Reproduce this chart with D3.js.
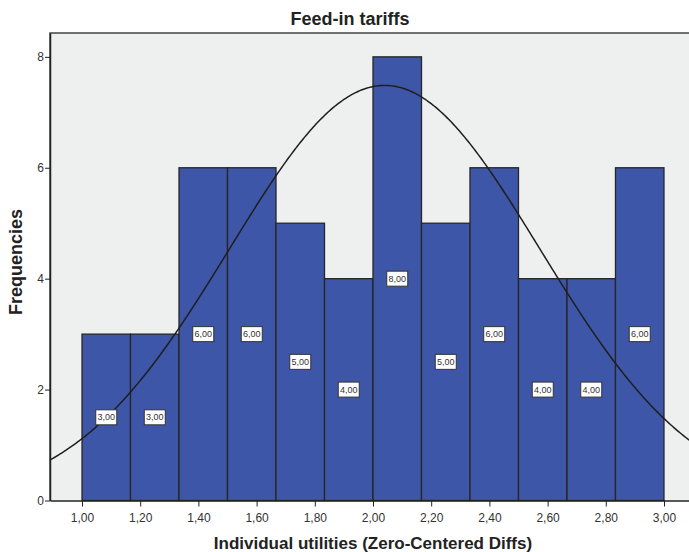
<!DOCTYPE html>
<html>
<head>
<meta charset="utf-8">
<script src="https://cdn.jsdelivr.net/npm/d3@7"></script>
<style>
  body{margin:0;background:#fff;}
  text{font-family:Arial,"Liberation Sans",sans-serif;}
</style>
</head>
<body>
<svg id="chart"></svg>
<script>
// histogram bins (lower edge) and counts
let binStarts=[1.0,1.1667,1.3333,1.5,1.6667,1.8333,2.0,2.1667,2.3333,2.5,2.6667,2.8333];
let binWidth=1/6;
let counts=[3,3,6,6,5,4,8,5,6,4,4,6];
let xTicks=[1.0,1.2,1.4,1.6,1.8,2.0,2.2,2.4,2.6,2.8,3.0];
let yTicks=[0,2,4,6,8];
// fitted normal curve stats
let mean=2.04;
let sd=0.533;

let width=689;
let height=552;
let padL=50, padR=696, padT=33, padB=500.5;

const svg=d3.select('#chart').attr('width',width).attr('height',height);
const loc=d3.formatLocale({decimal:',',thousands:'.',grouping:[3],currency:['','']});
const fmt=loc.format('.2f');

let xScale=d3.scaleLinear().domain([0.89,3.11]).range([padL,padR]);
let yScale=d3.scaleLinear().domain([0,8.43]).range([padB,padT]);

// plot background
svg.append('rect')
  .attr('x',padL).attr('y',padT)
  .attr('width',padR-padL).attr('height',padB-padT)
  .attr('fill','#eef0ef');

// bars
svg.selectAll('.bar')
  .data(counts)
  .enter()
  .append('rect')
  .attr('class','bar')
  .attr('x',(d,i)=>xScale(binStarts[i]))
  .attr('width',(d,i)=>xScale(binStarts[i]+binWidth)-xScale(binStarts[i]))
  .attr('y',d=>yScale(d))
  .attr('height',d=>yScale(0)-yScale(d))
  .attr('fill','#3e56a7')
  .attr('stroke','#262626')
  .attr('stroke-width',1.3);

// normal curve
let n=d3.sum(counts);
let curvePts=d3.range(0.89,3.111,0.005).map(v=>[v,n*binWidth/(sd*Math.sqrt(2*Math.PI))*Math.exp(-((v-mean)**2)/(2*sd*sd))]);
svg.append('path')
  .datum(curvePts)
  .attr('fill','none')
  .attr('stroke','#1e1e1e')
  .attr('stroke-width',1.5)
  .attr('d',d3.line().x(d=>xScale(d[0])).y(d=>yScale(d[1])));

// value labels
let lab=svg.selectAll('.lab')
  .data(counts)
  .enter()
  .append('g')
  .attr('class','lab')
  .attr('transform',(d,i)=>'translate('+xScale(binStarts[i]+binWidth/2)+','+yScale(d/2)+')');
lab.append('rect')
  .attr('x',-10.5).attr('y',-7.5)
  .attr('width',21).attr('height',15)
  .attr('fill','#fff')
  .attr('stroke','#333')
  .attr('stroke-width',1);
lab.append('text')
  .attr('text-anchor','middle')
  .attr('dy','0.35em')
  .attr('font-size','9px')
  .attr('fill','#333')
  .text(d=>fmt(d));

// frame
svg.append('path')
  .attr('d','M'+padL+','+padB+'V'+padT+'H'+padR)
  .attr('fill','none')
  .attr('stroke','#444')
  .attr('stroke-width',1.5);

// axes
let xAxis=d3.axisBottom(xScale).tickValues(xTicks).tickFormat(fmt).tickSize(6).tickSizeOuter(0);
let gx=svg.append('g').attr('transform','translate(0,'+padB+')').call(xAxis);
gx.select('.domain').attr('stroke','#222').attr('stroke-width',1.5);
gx.selectAll('.tick line').attr('stroke','#222');
gx.selectAll('.tick text').attr('font-size','12px').attr('fill','#333').attr('dy','1.05em').style('font-family','Arial');

let yAxis=d3.axisLeft(yScale).tickValues(yTicks).tickFormat(d3.format('d')).tickSize(5).tickSizeOuter(0);
let gy=svg.append('g').attr('transform','translate('+padL+',0)').call(yAxis);
gy.select('.domain').attr('stroke','#222').attr('stroke-width',1.5);
gy.selectAll('.tick line').attr('stroke','#222');
gy.selectAll('.tick text').attr('font-size','12px').attr('fill','#333').attr('x',-6).style('font-family','Arial');

// titles
svg.append('text')
  .attr('x',350).attr('y',25)
  .attr('text-anchor','middle')
  .attr('font-size','18px').attr('font-weight','bold').attr('fill','#222')
  .text('Feed-in tariffs');
svg.append('text')
  .attr('x',373).attr('y',549)
  .attr('text-anchor','middle')
  .attr('font-size','17px').attr('font-weight','bold').attr('fill','#222')
  .text('Individual utilities (Zero-Centered Diffs)');
svg.append('text')
  .attr('transform','translate(22,262) rotate(-90)')
  .attr('text-anchor','middle')
  .attr('font-size','18px').attr('font-weight','bold').attr('fill','#222')
  .text('Frequencies');
</script>
</body>
</html>
